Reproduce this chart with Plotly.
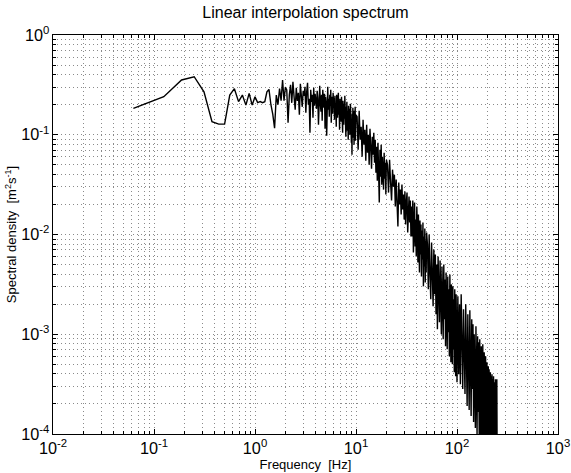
import numpy as np
import plotly.graph_objects as go

# ---------------- data ----------------
# frequency resolution of the spectrum (Hz)
FREQ_RES = 0.0625

# log10 of spectral density, 0.0625 .. 2.0 Hz (step 0.0625)
log_psd_low = [-0.735, -0.618, -0.451, -0.418, -0.569, -0.870, -0.893, -0.893, -0.602, -0.538,
               -0.668, -0.602, -0.703, -0.585, -0.703, -0.620, -0.678, -0.668, -0.678, -0.668,
               -0.569, -0.545, -0.699, -0.796, -0.935, -0.602, -0.699, -0.538, -0.658, -0.451,
               -0.658, -0.523]

# 2.0625 .. 10 Hz (step 0.0625)
log_psd_mid = [-0.55, -0.88, -0.60, -0.50, -0.68, -0.47, -0.62, -0.75, -0.53, -0.66, -0.58, -0.80, -0.49, -0.63, -0.72, -0.56,
               -0.61, -0.52, -0.78, -0.57, -0.48, -0.70, -0.64, -0.98, -0.55, -0.67, -0.60, -0.83, -0.53, -0.71, -0.59, -0.66,
               -0.74, -0.56, -0.63, -0.90, -0.58, -0.51, -0.69, -0.77, -0.60, -0.86, -0.55, -0.66, -0.73, -0.59, -0.94, -0.62,
               -0.68, -1.01, -0.57, -0.52, -0.75, -0.64, -0.82, -0.60, -0.71, -0.55, -0.88, -0.67, -0.62, -0.79, -0.58, -0.73,
               -0.63, -0.85, -0.61, -0.77, -0.69, -0.92, -0.60, -0.74, -0.83, -0.66, -0.58, -0.80, -0.71, -0.95, -0.64, -0.76,
               -0.70, -0.87, -0.62, -0.81, -0.74, -0.98, -0.66, -0.79, -0.90, -0.69, -0.84, -0.61, -0.93, -0.75, -1.02, -0.72,
               -0.80, -0.67, -0.96, -0.76, -0.88, -1.05, -0.71, -0.84, -0.93, -0.74, -1.00, -0.82, -0.69, -0.91, -0.78, -1.08,
               -0.85, -1.20, -0.79, -0.94, -0.73, -1.03, -0.88, -0.81, -1.10, -0.76, -0.97, -0.86, -0.72, -1.06, -0.90, -0.80]

# 10.25 .. 20 Hz (step 0.25)
log_psd_c = [-0.82, -1.15, -0.76, -1.05, -0.92, -1.22, -0.85, -1.10, -0.95, -1.26,
             -0.90, -1.18, -1.00, -1.30, -0.94, -1.12, -1.34, -1.02, -1.20, -0.98,
             -1.28, -1.05, -1.38, -1.12, -1.46, -1.08, -1.30, -1.68, -1.15, -1.42,
             -1.10, -1.50, -1.22, -1.36, -1.55, -1.18, -1.44, -1.28, -1.60, -1.25]

# 20.5 .. 50 Hz (step 0.5)
log_psd_d = [-1.30, -1.58, -1.25, -1.48, -1.66, -1.35, -1.52, -1.40, -1.72, -1.45,
             -1.62, -1.92, -1.48, -1.70, -1.55, -1.80, -1.50, -1.75, -1.60, -1.85,
             -1.57, -1.90, -1.68, -1.58, -1.98, -1.72, -1.62, -1.88, -1.66, -2.02,
             -1.72, -2.02, -1.66, -2.18, -1.80, -1.68, -2.12, -1.85, -2.22, -1.72,
             -1.92, -2.28, -1.80, -2.15, -2.38, -1.86, -2.20, -1.90, -2.42, -1.96,
             -2.25, -1.88, -2.52, -2.02, -2.32, -1.94, -2.48, -2.06, -2.38, -1.98]

# 51 .. 100 Hz (step 1)
log_psd_e = [-2.10, -2.55, -2.00, -2.40, -2.65, -2.08, -2.48, -2.72, -2.15, -2.60,
             -2.20, -2.80, -2.30, -2.95, -2.22, -2.65, -2.88, -2.26, -2.72, -3.00,
             -2.32, -2.78, -3.05, -2.30, -2.85, -2.45, -3.12, -2.38, -2.90, -3.15,
             -2.42, -2.98, -2.55, -3.22, -2.40, -3.05, -3.28, -2.50, -2.95, -3.30,
             -2.52, -3.15, -2.65, -3.38, -2.55, -3.08, -3.42, -2.60, -3.20, -3.48]

# 102 .. 250 Hz (step 2)
log_psd_f = [-2.62, -3.40, -2.70, -3.50, -2.60, -3.22, -3.55, -2.75, -3.35, -3.60,
             -2.70, -3.30, -3.72, -2.80, -3.50, -3.76, -2.76, -3.40, -3.82, -2.85,
             -3.55, -2.90, -3.88, -3.00, -3.65, -3.94, -2.92, -3.72, -4.00, -3.02,
             -3.78, -3.08, -4.04, -3.05, -3.85, -4.12, -3.12, -3.95, -4.20, -3.10,
             -4.00, -4.30, -3.18, -3.90, -4.15, -3.22, -4.05, -4.40, -3.28, -3.98,
             -4.25, -3.32, -4.10, -3.35, -4.45, -4.02, -3.38, -4.20, -3.42, -4.35,
             -3.40, -4.15, -3.45, -4.50, -3.42, -4.08, -4.30, -3.48, -4.40, -3.45,
             -4.20, -3.46, -4.35, -3.45, -4.40]

# frequency sampling grids for each block
freq_low = FREQ_RES * np.arange(1, 33)
freq_mid = FREQ_RES * np.arange(33, 161)
freq_c = 10 + 0.25 * np.arange(1, 41)
freq_d = 20 + 0.5 * np.arange(1, 61)
freq_e = 50 + 1.0 * np.arange(1, 51)
freq_f = 100 + 2.0 * np.arange(1, 76)

freq = np.concatenate([freq_low, freq_mid, freq_c, freq_d, freq_e, freq_f])
log_psd = np.concatenate([log_psd_low, log_psd_mid, log_psd_c, log_psd_d, log_psd_e, log_psd_f])
assert len(freq) == len(log_psd), (len(freq), len(log_psd))
psd = 10.0 ** log_psd

# ---------------- figure ----------------
FONT = "Liberation Sans, Arial, Helvetica, sans-serif"
GRID = "#8a8a8a"
DASH = "1px,3px"

fig = go.Figure()
fig.add_trace(go.Scatter(x=freq, y=psd, mode="lines",
                         line=dict(color="black", width=1.4), hoverinfo="skip"))

x_alias = {"1": "10<sup>0</sup>", "10": "10<sup>1</sup>",
           "10<sup>\u22122</sup>": "10<sup>-2</sup>", "10<sup>\u22121</sup>": "10<sup>-1</sup>"}
y_alias = {"1": "10<sup>0</sup>",
           "10<sup>\u22121</sup>": "10<sup>-1</sup>", "10<sup>\u22122</sup>": "10<sup>-2</sup>",
           "10<sup>\u22123</sup>": "10<sup>-3</sup>", "10<sup>\u22124</sup>": "10<sup>-4</sup>"}

axis_common = dict(
    type="log", dtick=1, exponentformat="power", automargin=False,
    showline=True, linecolor="black", linewidth=1, mirror="allticks",
    ticks="inside", ticklen=5, tickcolor="black", tickwidth=1,
    showgrid=True, gridcolor=GRID, griddash=DASH, gridwidth=1,
    zeroline=False, tickfont=dict(size=13, color="black", family=FONT),
    minor=dict(dtick="D1", ticks="inside", ticklen=3, tickcolor="black",
               showgrid=True, gridcolor=GRID, griddash=DASH, gridwidth=1),
)

fig.update_xaxes(range=[-2, 3], labelalias=x_alias,
                 title=dict(text="Frequency  [Hz]", font=dict(size=13, family=FONT, color="black"), standoff=4),
                 **axis_common)
fig.update_yaxes(range=[-4, 0], labelalias=y_alias,
                 title=dict(text="Spectral density  [m<sup>2</sup>s<sup>-1</sup>]",
                            font=dict(size=13, family=FONT, color="black"), standoff=1),
                 **axis_common)

fig.update_layout(
    width=571, height=473,
    margin=dict(l=53, r=13, t=35, b=39),
    paper_bgcolor="white", plot_bgcolor="white",
    showlegend=False,
    font=dict(family=FONT, color="black", size=13),
    title=dict(text="Linear interpolation spectrum", x=0.5, xref="paper", xanchor="center",
               y=1 - 12 / 473, yref="container", yanchor="middle",
               font=dict(size=16, family=FONT, color="black")),
)

fig.write_html("out.html")
